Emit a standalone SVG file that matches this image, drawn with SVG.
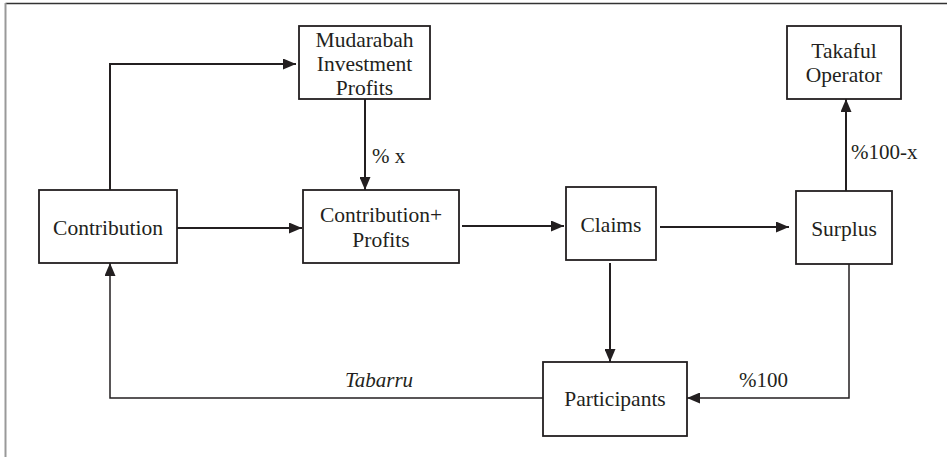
<svg xmlns="http://www.w3.org/2000/svg" width="947" height="457" viewBox="0 0 947 457">
<defs>
<marker id="ah" markerWidth="13" markerHeight="11" refX="13" refY="5.5" orient="auto" markerUnits="userSpaceOnUse">
<path d="M0,0 L13,5.5 L0,11 Z" fill="#231f20"/>
</marker>
<style>
.box{fill:#fff;stroke:#231f20;stroke-width:1.8}
.t{font-family:"Liberation Serif","Times New Roman",serif;font-size:21.5px;fill:#231f20;text-anchor:middle}
.l{font-family:"Liberation Serif","Times New Roman",serif;font-size:21px;fill:#231f20}
.c{fill:none;stroke:#231f20;stroke-width:2}
.c2{fill:none;stroke:#231f20;stroke-width:1.5}
</style>
</defs>
<rect width="947" height="457" fill="#fff"/>
<line x1="5.5" y1="3.5" x2="947" y2="3.5" stroke="#333" stroke-width="1.5"/>
<line x1="5.5" y1="3" x2="5.5" y2="457" stroke="#999" stroke-width="2"/>
<g id="connectors">
<path class="c" d="M110,190 V64 H296" marker-end="url(#ah)"/>
<path class="c" d="M365,99 V190" marker-end="url(#ah)"/>
<path class="c" d="M177,228 H302" marker-end="url(#ah)"/>
<path class="c" d="M462,226 H564" marker-end="url(#ah)"/>
<path class="c" d="M660,227 H789" marker-end="url(#ah)"/>
<path class="c" d="M846,191 V99" marker-end="url(#ah)"/>
<path class="c" d="M610,263 V362" marker-end="url(#ah)"/>
<path class="c2" d="M849,264 V398 H687" marker-end="url(#ah)"/>
<path class="c2" d="M543,398 H110 V263" marker-end="url(#ah)"/>
<text class="l" x="372" y="163">% x</text>
<text class="l" x="851" y="159">%100-x</text>
<text class="l" x="739" y="387">%100</text>
<text class="l" x="345" y="387" font-style="italic">Tabarru</text>
</g>
<g id="mudarabah">
<rect class="box" x="299" y="26" width="131" height="73"/>
<text class="t" x="364.5" y="47">Mudarabah</text>
<text class="t" x="364.5" y="71">Investment</text>
<text class="t" x="364.5" y="95">Profits</text>
</g>
<g id="takaful">
<rect class="box" x="787" y="26" width="114" height="73"/>
<text class="t" x="844" y="58">Takaful</text>
<text class="t" x="844" y="82">Operator</text>
</g>
<g id="contribution">
<rect class="box" x="39" y="190" width="138" height="73"/>
<text class="t" x="108" y="235">Contribution</text>
</g>
<g id="contribution-profits">
<rect class="box" x="303" y="190" width="156" height="73"/>
<text class="t" x="381" y="222">Contribution+</text>
<text class="t" x="381" y="246.5">Profits</text>
</g>
<g id="claims">
<rect class="box" x="566" y="187" width="90" height="73"/>
<text class="t" x="611" y="231.5">Claims</text>
</g>
<g id="surplus">
<rect class="box" x="796" y="191" width="96" height="73"/>
<text class="t" x="844" y="236">Surplus</text>
</g>
<g id="participants">
<rect class="box" x="543" y="362" width="144" height="74"/>
<text class="t" x="615" y="406">Participants</text>
</g>
</svg>
